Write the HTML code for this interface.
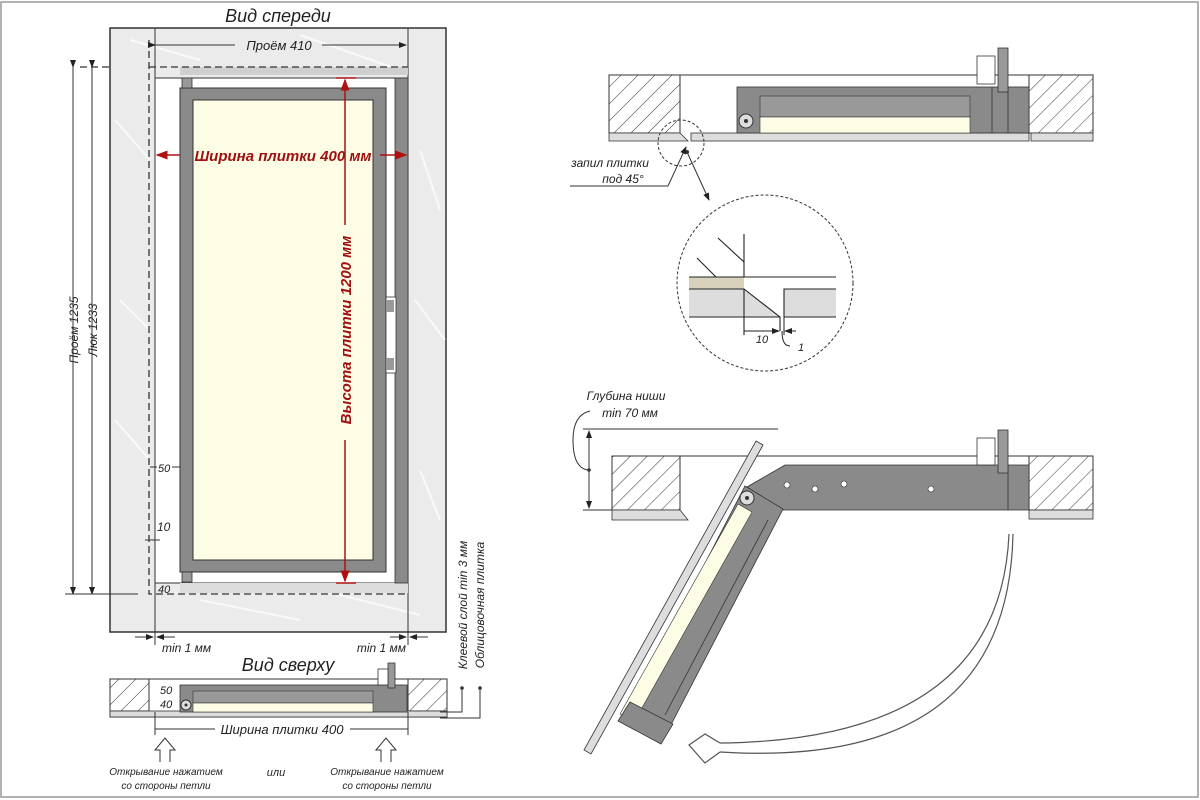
<!DOCTYPE html>
<html><head><meta charset="utf-8"><style>
html,body{margin:0;padding:0;background:#fff;}
svg{display:block;}
text{font-family:"Liberation Sans",sans-serif;font-style:italic;}
</style></head><body>
<svg width="1200" height="800" viewBox="0 0 1200 800" xmlns="http://www.w3.org/2000/svg">
<defs>
<pattern id="h" width="12" height="12" patternUnits="userSpaceOnUse" patternTransform="rotate(45)">
<rect width="12" height="12" fill="#fff"/><line x1="0" y1="0" x2="0" y2="12" stroke="#333" stroke-width="1"/></pattern>
<marker id="a" markerWidth="8" markerHeight="8" refX="7" refY="4" orient="auto"><path d="M0,1 L8,4 L0,7z" fill="#222"/></marker>
<marker id="ar" markerWidth="8" markerHeight="8" refX="7" refY="4" orient="auto"><path d="M0,1 L8,4 L0,7z" fill="#b01010"/></marker>
</defs>
<rect x="1" y="2" width="1197" height="795" fill="none" stroke="#999" stroke-width="1.5"/>

<!-- FRONT VIEW -->
<text x="278" y="22" font-size="18" text-anchor="middle" fill="#222">Вид спереди</text>
<rect x="110" y="28" width="336" height="604" fill="#ebebeb" stroke="#333" stroke-width="1.5"/>
<g stroke="#fff" stroke-width="2" opacity="0.7" fill="none">
<path d="M115,120 L150,160 M120,300 L150,330 M115,420 L150,460 M420,150 L440,210 M415,300 L445,340 M420,470 L440,520 M200,600 L300,620 M320,590 L420,615 M130,40 L200,60 M300,35 L400,70"/>
</g>
<rect x="155" y="78" width="253" height="505" fill="#fff" stroke="#333" stroke-width="1"/>
<line x1="155" y1="28" x2="155" y2="78" stroke="#333"/><line x1="408" y1="28" x2="408" y2="78" stroke="#333"/>
<line x1="155" y1="583" x2="155" y2="632" stroke="#333"/><line x1="408" y1="583" x2="408" y2="632" stroke="#333"/>
<rect x="180" y="67" width="228" height="8" fill="#cfcfcf"/>
<rect x="180" y="583" width="228" height="10" fill="#dcdcdc"/>
<rect x="395" y="78" width="13" height="505" fill="#8a8a8a" stroke="#333" stroke-width="0.8"/>
<rect x="180" y="88" width="206" height="484" fill="#8a8a8a" stroke="#333" stroke-width="1"/>
<rect x="193" y="100" width="180" height="460" fill="#fdfde6" stroke="#333" stroke-width="1"/>
<rect x="182" y="78" width="10" height="10" fill="#999" stroke="#333" stroke-width="0.8"/>
<rect x="182" y="572" width="10" height="10" fill="#999" stroke="#333" stroke-width="0.8"/>
<rect x="386" y="297" width="10" height="76" fill="#fff" stroke="#333" stroke-width="0.8"/>
<rect x="386" y="300" width="8" height="12" fill="#999"/><rect x="386" y="358" width="8" height="12" fill="#999"/>
<path d="M149,40 V594 H408 M80,67 H110 M149,67 H408" stroke="#333" stroke-width="1.3" stroke-dasharray="7,4" fill="none"/>
<line x1="155" y1="45" x2="235" y2="45" stroke="#333" marker-start="url(#a)"/>
<line x1="322" y1="45" x2="406" y2="45" stroke="#333" marker-end="url(#a)"/>
<text x="279" y="50" font-size="13" text-anchor="middle" fill="#222">Проём 410</text>
<line x1="73" y1="67" x2="73" y2="594" stroke="#333" marker-start="url(#a)" marker-end="url(#a)"/>
<line x1="92" y1="67" x2="92" y2="594" stroke="#333" marker-start="url(#a)" marker-end="url(#a)"/>
<line x1="65" y1="594" x2="138" y2="594" stroke="#333"/>
<text transform="translate(78,330) rotate(-90)" font-size="12" text-anchor="middle" fill="#222">Проём 1235</text>
<text transform="translate(97,330) rotate(-90)" font-size="12" text-anchor="middle" fill="#222">Люк 1233</text>
<line x1="180" y1="155" x2="157" y2="155" stroke="#b01010" stroke-width="1.5" marker-end="url(#ar)"/>
<line x1="380" y1="155" x2="406" y2="155" stroke="#b01010" stroke-width="1.5" marker-end="url(#ar)"/>
<text x="283" y="161" font-size="15" font-weight="bold" text-anchor="middle" fill="#a01010">Ширина плитки 400 мм</text>
<line x1="345" y1="225" x2="345" y2="80" stroke="#b01010" stroke-width="1.5" marker-end="url(#ar)"/>
<line x1="345" y1="440" x2="345" y2="581" stroke="#b01010" stroke-width="1.5" marker-end="url(#ar)"/>
<line x1="336" y1="78" x2="356" y2="78" stroke="#b01010" stroke-width="1.5"/>
<line x1="336" y1="583" x2="356" y2="583" stroke="#b01010" stroke-width="1.5"/>
<text transform="translate(351,330) rotate(-90)" font-size="15" font-weight="bold" text-anchor="middle" fill="#a01010">Высота плитки 1200 мм</text>
<text x="158" y="472" font-size="11" fill="#222">50</text><line x1="150" y1="467" x2="157" y2="467" stroke="#333"/><line x1="172" y1="467" x2="180" y2="467" stroke="#333"/>
<text x="157" y="531" font-size="12" fill="#222">10</text><line x1="145" y1="540" x2="160" y2="540" stroke="#333"/>
<text x="158" y="593" font-size="11" fill="#222">40</text>
<line x1="135" y1="637" x2="153" y2="637" stroke="#333" marker-end="url(#a)"/><line x1="175" y1="637" x2="157" y2="637" stroke="#333" marker-end="url(#a)"/>
<line x1="155" y1="632" x2="155" y2="645" stroke="#333"/>
<text x="162" y="652" font-size="12" fill="#222">min 1 мм</text>
<line x1="390" y1="637" x2="406" y2="637" stroke="#333" marker-end="url(#a)"/><line x1="428" y1="637" x2="410" y2="637" stroke="#333" marker-end="url(#a)"/>
<line x1="408" y1="632" x2="408" y2="645" stroke="#333"/>
<text x="406" y="652" font-size="12" text-anchor="end" fill="#222">min 1 мм</text>

<!-- TOP VIEW -->
<text x="288" y="671" font-size="18" text-anchor="middle" fill="#222">Вид сверху</text>
<rect x="110" y="679" width="337" height="38" fill="#fff" stroke="#333"/>
<rect x="110" y="679" width="39" height="32" fill="url(#h)" stroke="#333"/>
<rect x="408" y="679" width="39" height="32" fill="url(#h)" stroke="#333"/>
<rect x="110" y="711" width="337" height="6" fill="#ddd" stroke="#333" stroke-width="0.8"/>
<rect x="180" y="685" width="227" height="27" fill="#8a8a8a" stroke="#333" stroke-width="0.8"/>
<rect x="193" y="691" width="180" height="12" fill="#999" stroke="#333" stroke-width="0.6"/>
<rect x="193" y="703" width="180" height="9" fill="#fdfde6" stroke="#333" stroke-width="0.6"/>
<circle cx="186" cy="705" r="5" fill="#ddd" stroke="#333"/><circle cx="186" cy="705" r="1.5" fill="#333"/>
<rect x="388" y="663" width="7" height="25" fill="#999" stroke="#333" stroke-width="0.8"/>
<rect x="378" y="669" width="10" height="16" fill="#fff" stroke="#333" stroke-width="0.8"/>
<text x="160" y="694" font-size="11" fill="#222">50</text><text x="160" y="708" font-size="11" fill="#222">40</text>
<line x1="155" y1="712" x2="155" y2="735" stroke="#333"/><line x1="408" y1="712" x2="408" y2="735" stroke="#333"/>
<line x1="155" y1="729" x2="215" y2="729" stroke="#333"/><line x1="350" y1="729" x2="408" y2="729" stroke="#333"/>
<text x="282" y="734" font-size="13" text-anchor="middle" fill="#222">Ширина плитки 400</text>
<path d="M160,762 V750 H155 L165,738 L175,750 H170 V762" fill="#fff" stroke="#333"/>
<path d="M381,762 V750 H376 L386,738 L396,750 H391 V762" fill="#fff" stroke="#333"/>
<text x="166" y="775" font-size="10" text-anchor="middle" fill="#222">Открывание нажатием</text>
<text x="166" y="789" font-size="10" text-anchor="middle" fill="#222">со стороны петли</text>
<text x="276" y="776" font-size="11" text-anchor="middle" fill="#222">или</text>
<text x="387" y="775" font-size="10" text-anchor="middle" fill="#222">Открывание нажатием</text>
<text x="387" y="789" font-size="10" text-anchor="middle" fill="#222">со стороны петли</text>
<text transform="translate(467,605) rotate(-90)" font-size="12" text-anchor="middle" fill="#222">Клеевой слой min 3 мм</text>
<text transform="translate(484,605) rotate(-90)" font-size="12" text-anchor="middle" fill="#222">Облицовочная плитка</text>
<path d="M462,688 V712 H440 M480,688 V718 H440" fill="none" stroke="#333"/>
<circle cx="462" cy="688" r="1.8" fill="#333"/><circle cx="480" cy="688" r="1.8" fill="#333"/>

<!-- RIGHT TOP SECTION -->
<line x1="609" y1="75" x2="1093" y2="75" stroke="#333"/>
<rect x="609" y="75" width="71" height="58" fill="url(#h)" stroke="#333"/>
<rect x="1029" y="75" width="64" height="58" fill="url(#h)" stroke="#333"/>
<path d="M609,133 H680 L688,141 H609z" fill="#ddd" stroke="#333" stroke-width="0.8"/>
<rect x="691" y="133" width="338" height="8" fill="#ddd" stroke="#333" stroke-width="0.8"/>
<rect x="1031" y="133" width="62" height="8" fill="#ddd" stroke="#333" stroke-width="0.8"/>
<rect x="737" y="87" width="292" height="46" fill="#8a8a8a" stroke="#333" stroke-width="0.8"/>
<rect x="760" y="96" width="210" height="21" fill="#999" stroke="#333" stroke-width="0.6"/>
<rect x="760" y="117" width="210" height="16" fill="#fdfde6" stroke="#333" stroke-width="0.6"/>
<line x1="992" y1="87" x2="992" y2="133" stroke="#333" stroke-width="0.8"/><line x1="1008" y1="87" x2="1008" y2="133" stroke="#333" stroke-width="0.8"/>
<circle cx="746" cy="121" r="7" fill="#ddd" stroke="#333"/><circle cx="746" cy="121" r="2" fill="#333"/>
<rect x="998" y="48" width="10" height="44" fill="#999" stroke="#333" stroke-width="0.8"/>
<rect x="977" y="56" width="18" height="28" fill="#fff" stroke="#333" stroke-width="0.8"/>
<circle cx="681" cy="143" r="23" fill="none" stroke="#333" stroke-dasharray="3,2"/>
<line x1="687" y1="152" x2="709" y2="200" stroke="#333" marker-end="url(#a)"/><circle cx="687" cy="152" r="2" fill="#333"/>
<path d="M570,186 H668 L686,147" fill="none" stroke="#333" marker-end="url(#a)"/>
<text x="610" y="167" font-size="12" text-anchor="middle" fill="#222">запил плитки</text>
<text x="623" y="183" font-size="12" text-anchor="middle" fill="#222">под 45°</text>
<circle cx="765" cy="283" r="88" fill="#fff" stroke="#333" stroke-dasharray="3,2"/>
<rect x="689" y="277" width="55" height="12" fill="#d8d2bc"/>
<path d="M689,289 H744 L780,317 H689z" fill="#ddd"/>
<rect x="784" y="289" width="52" height="28" fill="#ddd"/>
<path d="M744,234 V277 M689,277 H836 M689,289 H744 L780,317 M689,317 H780 V331 M784,317 V289 H836 M784,317 H836 M744,289 V335 M718,238 L744,262 M697,258 L716,277" fill="none" stroke="#222" stroke-width="1.1"/>
<line x1="784" y1="317" x2="784" y2="335" stroke="#222"/>
<line x1="744" y1="331" x2="779" y2="331" stroke="#222" marker-end="url(#a)"/>
<line x1="796" y1="331" x2="785" y2="331" stroke="#222" marker-end="url(#a)"/>
<path d="M782,331 Q782,346 790,346" fill="none" stroke="#222"/>
<text x="762" y="343" font-size="11" text-anchor="middle" fill="#222">10</text>
<text x="801" y="351" font-size="11" text-anchor="middle" fill="#222">1</text>

<!-- RIGHT BOTTOM SECTION -->
<text x="626" y="400" font-size="12" text-anchor="middle" fill="#222">Глубина ниши</text>
<text x="630" y="417" font-size="12" text-anchor="middle" fill="#222">min 70 мм</text>
<path d="M590,411 Q573,415 573,440 Q573,468 588,470" fill="none" stroke="#333"/>
<line x1="583" y1="429" x2="778" y2="429" stroke="#333"/>
<line x1="583" y1="510" x2="612" y2="510" stroke="#333"/>
<line x1="589" y1="470" x2="589" y2="431" stroke="#333" marker-end="url(#a)"/>
<line x1="589" y1="470" x2="589" y2="508" stroke="#333" marker-end="url(#a)"/>
<circle cx="589" cy="470" r="1.8" fill="#333"/>
<line x1="612" y1="456" x2="1093" y2="456" stroke="#333"/>
<rect x="612" y="456" width="68" height="54" fill="url(#h)" stroke="#333"/>
<rect x="1029" y="456" width="64" height="54" fill="url(#h)" stroke="#333"/>
<path d="M612,510 H680 L688,520 H612z" fill="#ddd" stroke="#333" stroke-width="0.8"/>
<rect x="1029" y="510" width="64" height="9" fill="#ddd" stroke="#333" stroke-width="0.8"/>
<path d="M747,487 L785,465 H1029 V510 H776z" fill="#8a8a8a" stroke="#333" stroke-width="0.8"/>
<line x1="1008" y1="465" x2="1008" y2="510" stroke="#333" stroke-width="0.8"/>
<circle cx="787" cy="485" r="3" fill="#fff" stroke="#333" stroke-width="0.6"/>
<circle cx="815" cy="489" r="3" fill="#fff" stroke="#333" stroke-width="0.6"/>
<circle cx="844" cy="484" r="3" fill="#fff" stroke="#333" stroke-width="0.6"/>
<circle cx="931" cy="489" r="3" fill="#fff" stroke="#333" stroke-width="0.6"/>
<rect x="998" y="430" width="10" height="43" fill="#999" stroke="#333" stroke-width="0.8"/>
<rect x="977" y="438" width="18" height="27" fill="#fff" stroke="#333" stroke-width="0.8"/>
<path d="M756,441 L763,445 L591,754 L584,750z" fill="#ddd" stroke="#333" stroke-width="0.8"/>
<path d="M745,486 L783,509 L661,744 L623,722z" fill="#8a8a8a" stroke="#333" stroke-width="0.8"/>
<path d="M738,504 L752,512 L634,722 L620,714z" fill="#fdfde6" stroke="#333" stroke-width="0.6"/>
<path d="M630,702 L673,724 L661,744 L618,721z" fill="#8a8a8a" stroke="#333" stroke-width="0.8"/>
<line x1="768" y1="520" x2="665" y2="715" stroke="#333" stroke-width="0.8"/>
<circle cx="747" cy="498" r="7" fill="#ddd" stroke="#333"/><circle cx="747" cy="498" r="2" fill="#333"/>
<path d="M1009,534 Q1000,740 720,743" fill="none" stroke="#555" stroke-width="1.2"/>
<path d="M1013,534 Q1008,770 720,752" fill="none" stroke="#555" stroke-width="1.2"/>
<path d="M720,743 L705,734 L689,745 L705,763 L720,752" fill="#fff" stroke="#555" stroke-width="1.2"/>
</svg>
</body></html>
